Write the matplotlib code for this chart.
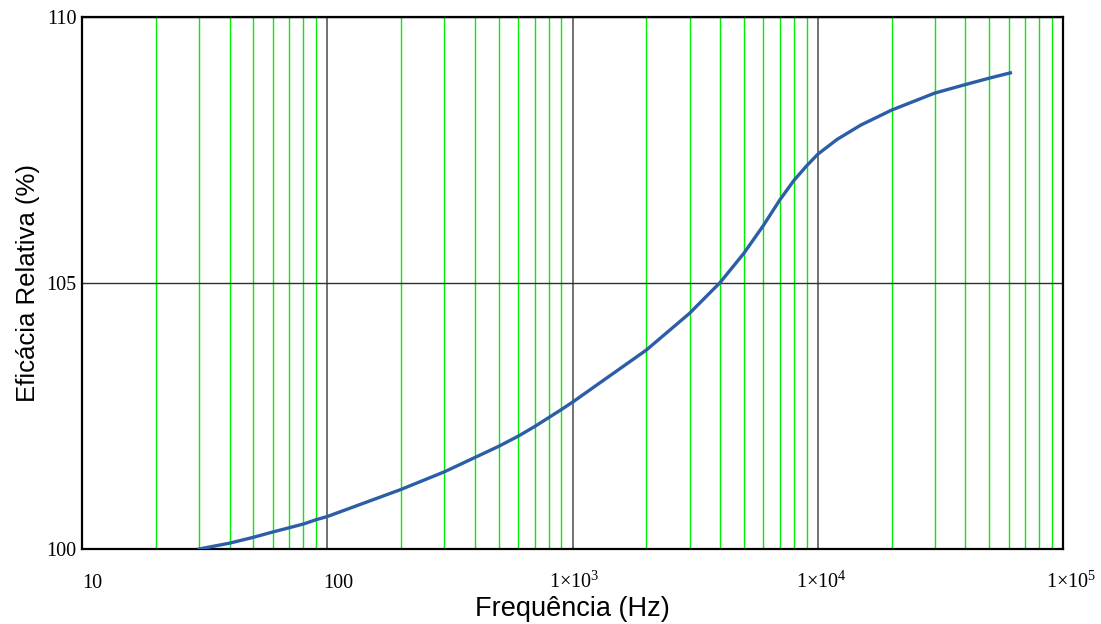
import numpy as np
import matplotlib
matplotlib.use("Agg")
import matplotlib.pyplot as plt
from matplotlib.ticker import LogLocator, NullFormatter
from matplotlib.transforms import ScaledTranslation

# Dados
freq = [30, 40, 50, 60, 70, 80, 90, 100, 200, 300, 400, 500, 600, 700, 800, 900,
        1000, 2000, 3000, 4000, 5000, 6000, 7000, 8000, 9000, 10000,
        12000, 15000, 20000, 30000, 40000, 50000, 61000]
eficacia = [100.0, 100.11, 100.22, 100.32, 100.40, 100.47, 100.55, 100.61,
            101.12, 101.45, 101.72, 101.93, 102.12, 102.30, 102.47, 102.62,
            102.76, 103.74, 104.43, 105.01, 105.56, 106.08, 106.56, 106.93,
            107.20, 107.42, 107.70, 107.97, 108.25, 108.57, 108.73, 108.85, 108.95]

xticks = [10, 100, 1e3, 1e4, 1e5]
xtick_labels = ['10', '100', r'1$\times$10$^{3}$', r'1$\times$10$^{4}$', r'1$\times$10$^{5}$']
xtick_offsets = [10, 11, 2, 4, 8]  # px
yticks = [100, 105, 110]

plt.rcParams['mathtext.fontset'] = 'custom'
plt.rcParams['mathtext.rm'] = 'Liberation Serif'
plt.rcParams['mathtext.it'] = 'Liberation Serif:italic'

fig = plt.figure(figsize=(11.01, 6.24), dpi=100)
ax = fig.add_axes([82 / 1101, 1 - 549 / 624, (1063 - 82) / 1101, (549 - 17) / 624])

ax.plot(freq, eficacia, color='#2c5ea8', linewidth=2.4, zorder=5)

ax.set_xscale('log')
ax.set_xlim(10, 1e5)
ax.set_ylim(100, 110)

ax.xaxis.set_minor_locator(LogLocator(base=10, subs=np.arange(2, 10)))
ax.xaxis.set_minor_formatter(NullFormatter())
ax.grid(axis='x', which='minor', color='#00ee00', linewidth=1.0, zorder=1)
ax.grid(axis='x', which='major', color='#707070', linewidth=1.4, zorder=2)
ax.grid(axis='y', which='major', color='#303030', linewidth=1.0, zorder=2)
ax.set_axisbelow(True)

ax.set_xticks(xticks)
ax.set_xticklabels(xtick_labels, fontfamily='Liberation Serif', fontsize=14.5)
ax.set_yticks(yticks)
ax.set_yticklabels([str(v) for v in yticks], fontfamily='Liberation Serif', fontsize=14.5)
ax.tick_params(axis='both', which='both', length=0)
ax.tick_params(axis='x', pad=28)
ax.tick_params(axis='y', pad=4)

for lab, off in zip(ax.get_xticklabels(), xtick_offsets):
    lab.set_va('baseline')
    lab.set_transform(lab.get_transform() + ScaledTranslation(off / 100, 0, fig.dpi_scale_trans))

for s in ax.spines.values():
    s.set_linewidth(1.6)
    s.set_color('black')

ax.set_xlabel('Frequência (Hz)', fontfamily='Liberation Sans', fontsize=19.5)
ax.set_ylabel('Eficácia Relativa (%)', fontfamily='Liberation Sans', fontsize=18.5)
ax.xaxis.set_label_coords(0.5, -0.088)
ax.yaxis.set_label_coords(-0.043, 0.5)

fig.savefig('out.png', dpi=100)
